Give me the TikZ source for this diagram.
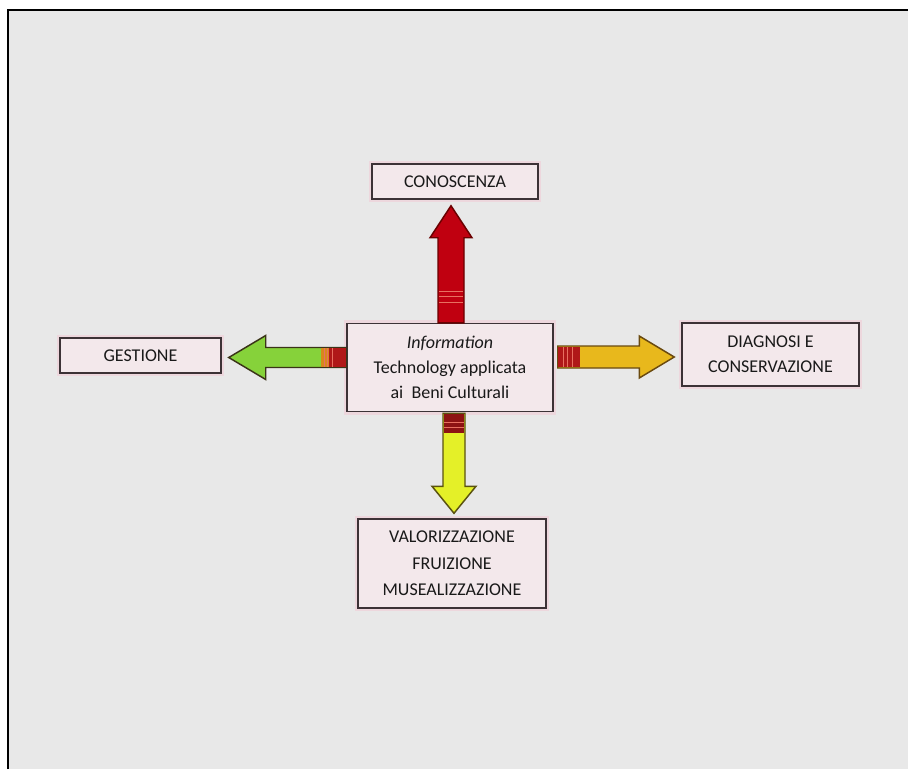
\documentclass[tikz,border=0pt]{standalone}
\usepackage{fontspec}
\setmainfont{Carlito}
\usetikzlibrary{calc}
\definecolor{bg}{HTML}{E8E8E8}
\definecolor{boxfill}{HTML}{F3E8EB}
\definecolor{boxline}{HTML}{3C3236}
\definecolor{halo}{HTML}{F4C4D0}
\definecolor{redA}{HTML}{C00010}
\definecolor{redO}{HTML}{6A0000}
\definecolor{greenA}{HTML}{86D23A}
\definecolor{greenO}{HTML}{3A3418}
\definecolor{orangeA}{HTML}{E8B81C}
\definecolor{orangeO}{HTML}{6A4A10}
\definecolor{yellowA}{HTML}{E4F028}
\definecolor{yellowO}{HTML}{5A5210}
\definecolor{stripeR}{HTML}{B01818}
\definecolor{stripeL}{HTML}{E87060}
\tikzset{
  tbox/.style={draw=boxline, line width=1.1pt, fill=boxfill, inner sep=0pt,
    align=center, font=\fontsize{13.5}{19}\selectfont, text=black!90,
    preaction={draw=halo, line width=5pt, opacity=0.45}},
  barrow/.style={line width=1.1pt, line join=miter}
}
\begin{document}
\begin{tikzpicture}[x=0.75pt,y=-0.75pt]
\fill[white] (0,0) rectangle (908,769);
\useasboundingbox (0,0) rectangle (908,769);
\fill[bg] (8,10) rectangle (908,769);
\draw[line width=2.2pt] (8,769) -- (8,10) -- (908,10);

% boxes
\node[tbox, minimum width=124.5pt, minimum height=26.25pt] (cono) at (455,181.5) {CONOSCENZA};
\node[tbox, minimum width=154.5pt, minimum height=66pt] (ctr) at (450,367.5)
  {\textit{Information}\\Technology applicata\\ai~ Beni Culturali};
\node[tbox, minimum width=120.75pt, minimum height=26.25pt] (gest) at (140.5,355.5) {GESTIONE};
\node[tbox, minimum width=132.75pt, minimum height=47.25pt] (diag) at (770.5,354.5) {DIAGNOSI E\\CONSERVAZIONE};
\node[tbox, minimum width=141pt, minimum height=66.75pt, font=\fontsize{13.5}{20}\selectfont] (valo) at (452,563.5) {VALORIZZAZIONE\\FRUIZIONE\\MUSEALIZZAZIONE};

% up arrow (red)
\coordinate (uS) at ($(ctr.north)+(1,0)$);
\coordinate (uT) at ($(uS |- cono.south)+(0,6)$);
\draw[barrow, draw=redO, fill=redA]
  ($(uS)+(-13,0)$) -- ($(uT)+(-13,32)$) -- ($(uT)+(-21,32)$) -- (uT)
  -- ($(uT)+(21,32)$) -- ($(uT)+(13,32)$) -- ($(uS)+(13,0)$) -- cycle;
\foreach \d in {-31,-26,-20} \draw[stripeL, line width=0.9pt] ($(uS)+(-12,\d)$) -- ($(uS)+(12,\d)$);

% left arrow (green)
\coordinate (lS) at ($(ctr.west)+(0,-10)$);
\coordinate (lT) at ($(lS -| gest.east)+(7,0)$);
\draw[barrow, draw=greenO, fill=greenA]
  ($(lS)+(0,-10)$) -- ($(lT)+(37,-10)$) -- ($(lT)+(37,-22)$) -- (lT)
  -- ($(lT)+(37,22)$) -- ($(lT)+(37,10)$) -- ($(lS)+(0,10)$) -- cycle;
\fill[stripeR] ($(lS)+(-17,-9.3)$) rectangle ($(lS)+(-0.6,9.3)$);
\fill[orangeA!70!stripeR] ($(lS)+(-25,-9.3)$) rectangle ($(lS)+(-17,9.3)$);
\foreach \d in {-22,-19,-14} \draw[stripeL, line width=0.8pt] ($(lS)+(\d,-9.3)$) -- ($(lS)+(\d,9.3)$);

% right arrow (orange)
\coordinate (rS) at ($(ctr.east)+(4,-10.5)$);
\coordinate (rT) at ($(rS -| diag.west)+(-7,0)$);
\draw[barrow, draw=orangeO, fill=orangeA]
  ($(rS)+(0,-11)$) -- ($(rT)+(-35,-11)$) -- ($(rT)+(-35,-21)$) -- (rT)
  -- ($(rT)+(-35,21)$) -- ($(rT)+(-35,11)$) -- ($(rS)+(0,11)$) -- cycle;
\fill[stripeR] ($(rS)+(0.6,-10.3)$) rectangle ($(rS)+(22,10.3)$);
\foreach \d in {6,10,15} \draw[stripeL, line width=0.8pt] ($(rS)+(\d,-10.3)$) -- ($(rS)+(\d,10.3)$);

% down arrow (yellow)
\coordinate (dS) at ($(ctr.south)+(4,1)$);
\coordinate (dT) at ($(dS |- valo.north)+(0,-5)$);
\draw[barrow, draw=yellowO, fill=yellowA]
  ($(dS)+(-11,0)$) -- ($(dT)+(-11,-27)$) -- ($(dT)+(-22,-27)$) -- (dT)
  -- ($(dT)+(22,-27)$) -- ($(dT)+(11,-27)$) -- ($(dS)+(11,0)$) -- cycle;
\fill[stripeR!80!black] ($(dS)+(-10.3,0.6)$) rectangle ($(dS)+(10.3,20)$);
\foreach \d in {9,14} \draw[stripeL, line width=0.9pt] ($(dS)+(-10.3,\d)$) -- ($(dS)+(10.3,\d)$);
\end{tikzpicture}
\end{document}
